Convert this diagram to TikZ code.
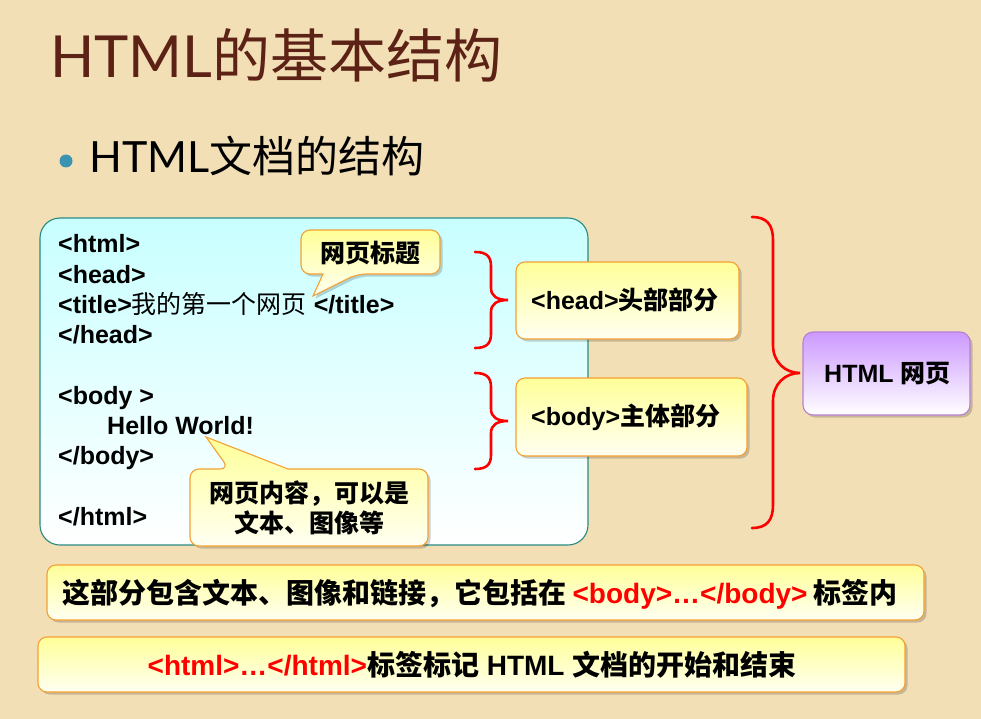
\documentclass[tikz,border=0pt]{standalone}
\usepackage{fontspec}
\setmainfont{Liberation Sans}
\newfontfamily\cjk{Noto Sans CJK SC}
\newfontfamily\lato{Lato}
\usetikzlibrary{shadows}
\definecolor{bg}{HTML}{F2DFB5}
\definecolor{titlebrown}{HTML}{5C2216}
\definecolor{bullet}{HTML}{3A93B0}
\definecolor{teal}{HTML}{2A8A80}
\definecolor{cyantop}{HTML}{C8FFFF}
\definecolor{orangeb}{HTML}{F5A032}
\definecolor{yeltop}{HTML}{FFFF99}
\definecolor{yelbot}{HTML}{FFFFF2}
\definecolor{purpb}{HTML}{B77FD6}
\definecolor{purptop}{HTML}{CC99FF}
\definecolor{braced}{HTML}{FF0000}
\begin{document}
\begin{tikzpicture}[x=1pt,y=-1pt,
  shad/.style={drop shadow={shadow xshift=2.5pt,shadow yshift=-2.5pt,opacity=0.18,fill=black}},
  yelbox/.style={draw=orangeb,line width=1.1pt,rounded corners=9pt,top color=yeltop,bottom color=yelbot,shad},
  codetxt/.style={anchor=base west,inner sep=0pt,font=\bfseries\fontsize{25}{30}\selectfont},
  bracepath/.style={draw=braced,line width=2.6pt,line cap=round}]
\useasboundingbox (0,0) rectangle (981,719);
\fill[bg] (0,0) rectangle (981,719);
% title
\node[anchor=base west,inner sep=0pt,text=titlebrown] (title) at (50,78)
  {\lato\fontsize{58}{60}\selectfont HTML\cjk 的基本结构};
\fill[bullet] (66,161) circle (6.5);
\node[anchor=base west,inner sep=0pt] (sub) at (89,173)
  {\lato\fontsize{43}{48}\selectfont HTML\cjk 文档的结构};
% main code box
\node[draw=teal,line width=1.1pt,rounded corners=20pt,top color=cyantop,bottom color=white,
  minimum width=548pt,minimum height=327pt,inner sep=0pt] (main) at (314,381.5) {};
\node[codetxt] (l1) at (58,252) {<html>};
\node[codetxt] (l2) at (58,283) {<head>};
\node[codetxt] (l3) at (58,313) {<title>{\cjk\mdseries 我的第一个网页} </title>};
\node[codetxt] (l4) at (58,343) {</head>};
\node[codetxt] (l5) at (58,404) {<body >};
\node[codetxt] (l6) at (107,434) {Hello World!};
\node[codetxt] (l7) at (58,464) {</body>};
\node[codetxt] (l8) at (58,525) {</html>};
% callout 1
\path[yelbox] (370,230) -- (440,230) -- (440,274) -- (357,274) [sharp corners] -- (313,296) -- (323,274) [rounded corners=9pt] -- (301,274) -- (301,230) -- cycle;
\node[inner sep=0pt,font=\cjk\bfseries\fontsize{25}{28}\selectfont] (c1) at (370,253) {网页标题};
% callout 2
\path[yelbox] (310,469) -- (428,469) -- (428,546) -- (190,546) -- (190,469) -- (229,469) [sharp corners] -- (206,437) -- (288,469) [rounded corners=9pt] -- cycle;
\node[inner sep=0pt,align=center,font=\cjk\bfseries\fontsize{25}{30}\selectfont] (c2) at (309,508) {网页内容，可以是\\文本、图像等};
% head/body boxes
\node[yelbox,minimum width=223pt,minimum height=77pt,inner sep=0pt] (headbox) at (627.5,300.5) {};
\node[codetxt] (headt) at (531,309) {<head>{\cjk 头部部分}};
\node[yelbox,minimum width=231pt,minimum height=78pt,inner sep=0pt] (bodybox) at (631.5,417) {};
\node[codetxt] (bodyt) at (531,425) {<body>{\cjk 主体部分}};
% HTML page box
\node[draw=purpb,line width=1.1pt,rounded corners=10pt,top color=purptop,bottom color=white,shad,
  minimum width=167pt,minimum height=83pt,inner sep=0pt] (page) at (886.5,373.5) {};
\node[codetxt] (paget) at (824,382) {HTML {\cjk 网页}};
% braces
\path[bracepath] (475,252) .. controls (486,252) and (491,256) .. (491,266) -- (491,288)
  .. controls (491,296) and (497,300) .. (508,300) .. controls (497,300) and (491,304) .. (491,312)
  -- (491,334) .. controls (491,344) and (486,348) .. (475,348);
\path[bracepath] (475,373) .. controls (486,373) and (491,377) .. (491,387) -- (491,409)
  .. controls (491,417) and (497,421) .. (508,421) .. controls (497,421) and (491,425) .. (491,433)
  -- (491,455) .. controls (491,465) and (486,469) .. (475,469);
\path[bracepath] (752,217) .. controls (767,217) and (773,225) .. (773,240) -- (773,345)
  .. controls (773,362) and (785,373) .. (800,373) .. controls (785,373) and (773,384) .. (773,401)
  -- (773,505) .. controls (773,520) and (767,528) .. (752,528);
% bottom boxes
\node[yelbox,minimum width=877pt,minimum height=55pt,inner sep=0pt] (note1) at (485.5,592.5) {};
\node[codetxt,font=\bfseries\fontsize{28}{30}\selectfont] (note1t) at (62,603)
  {\cjk 这部分包含文本、图像和链接，它包括在 {\normalfont\bfseries\color{red}<body>…</body>} 标签内};
\node[yelbox,minimum width=867pt,minimum height=55pt,inner sep=0pt] (note2) at (471.5,664.5) {};
\node[anchor=base,inner sep=0pt,font=\bfseries\fontsize{28}{30}\selectfont] (note2t) at (472,675)
  {{\color{red}<html>…</html>}{\cjk 标签标记} HTML {\cjk 文档的开始和结束}};
\end{tikzpicture}
\end{document}
